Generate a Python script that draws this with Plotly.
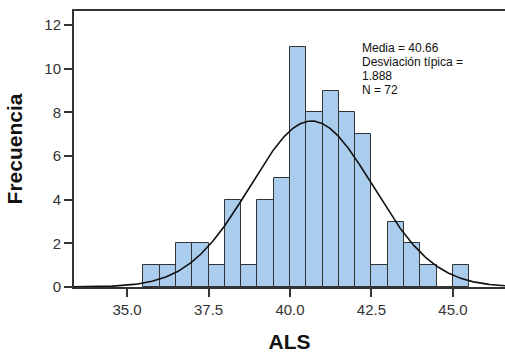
import numpy as np
import plotly.graph_objects as go

# Histogram data (bin lower edges and frequencies), bin width 0.5
bin_starts = [35.5, 36.0, 36.5, 37.0, 37.5, 38.0, 38.5, 39.0, 39.5, 40.0,
              40.5, 41.0, 41.5, 42.0, 42.5, 43.0, 43.5, 44.0, 44.5, 45.0]
counts = [1, 1, 2, 2, 1, 4, 1, 4, 5, 11, 8, 9, 8, 7, 1, 3, 2, 1, 0, 1]
bin_width = 0.5

mean = 40.66
sd = 1.888
n = 72

stats_lines = ["Media = 40.66", "Desviación típica =", "1.888", "N = 72"]

x_ticks = [35.0, 37.5, 40.0, 42.5, 45.0]
y_ticks = [0, 2, 4, 6, 8, 10, 12]

x_range = [33.37, 46.6]
y_range = [0, 12.65]

centers = [s + bin_width / 2 for s in bin_starts]

xc = np.linspace(x_range[0], x_range[1], 400)
yc = n * bin_width / (sd * np.sqrt(2 * np.pi)) * np.exp(-0.5 * ((xc - mean) / sd) ** 2)

fig = go.Figure()
fig.add_trace(go.Bar(
    x=centers, y=counts, width=bin_width,
    marker=dict(color="#aacdee", line=dict(color="#333333", width=1)),
    hoverinfo="skip",
))
fig.add_trace(go.Scatter(
    x=xc, y=yc, mode="lines",
    line=dict(color="#111111", width=1.6),
    hoverinfo="skip",
))

font_family = "Liberation Sans, Arial, sans-serif"

annotations = []
for i, line in enumerate(stats_lines):
    annotations.append(dict(
        xref="paper", yref="paper", x=0.666, y=0.866 - i * 0.0507,
        xanchor="left", yanchor="middle", align="left", showarrow=False,
        borderpad=0,
        text=line,
        font=dict(size=12, color="#111111", family=font_family),
    ))

fig.update_layout(
    width=505, height=356,
    margin=dict(l=74, r=0, t=11, b=69),
    paper_bgcolor="white", plot_bgcolor="white",
    showlegend=False,
    bargap=0,
    font=dict(family=font_family, size=12, color="#333333"),
    xaxis=dict(
        range=x_range, tickvals=x_ticks, tickformat=".1f",
        showgrid=False, zeroline=False,
        showline=True, linecolor="#333333", linewidth=2, mirror=True,
        ticks="outside", ticklen=8, tickwidth=1.5, tickcolor="#333333",
        tickfont=dict(size=15, color="#333333"),
        title=dict(text="<b>ALS</b>", font=dict(size=21, color="#111111"), standoff=17),
    ),
    yaxis=dict(
        range=y_range, tickvals=y_ticks,
        showgrid=False, zeroline=False,
        showline=True, linecolor="#333333", linewidth=2,
        ticks="outside", ticklen=8, tickwidth=1.5, tickcolor="#333333",
        tickfont=dict(size=15, color="#333333"),
        title=dict(text="<b>Frecuencia</b>", font=dict(size=21, color="#111111"), standoff=16),
    ),
    annotations=annotations,
)

fig.write_html(
    "out.html",
    config={"displayModeBar": False},
    post_script="document.body.style.margin='0';document.body.style.overflow='hidden';",
)
